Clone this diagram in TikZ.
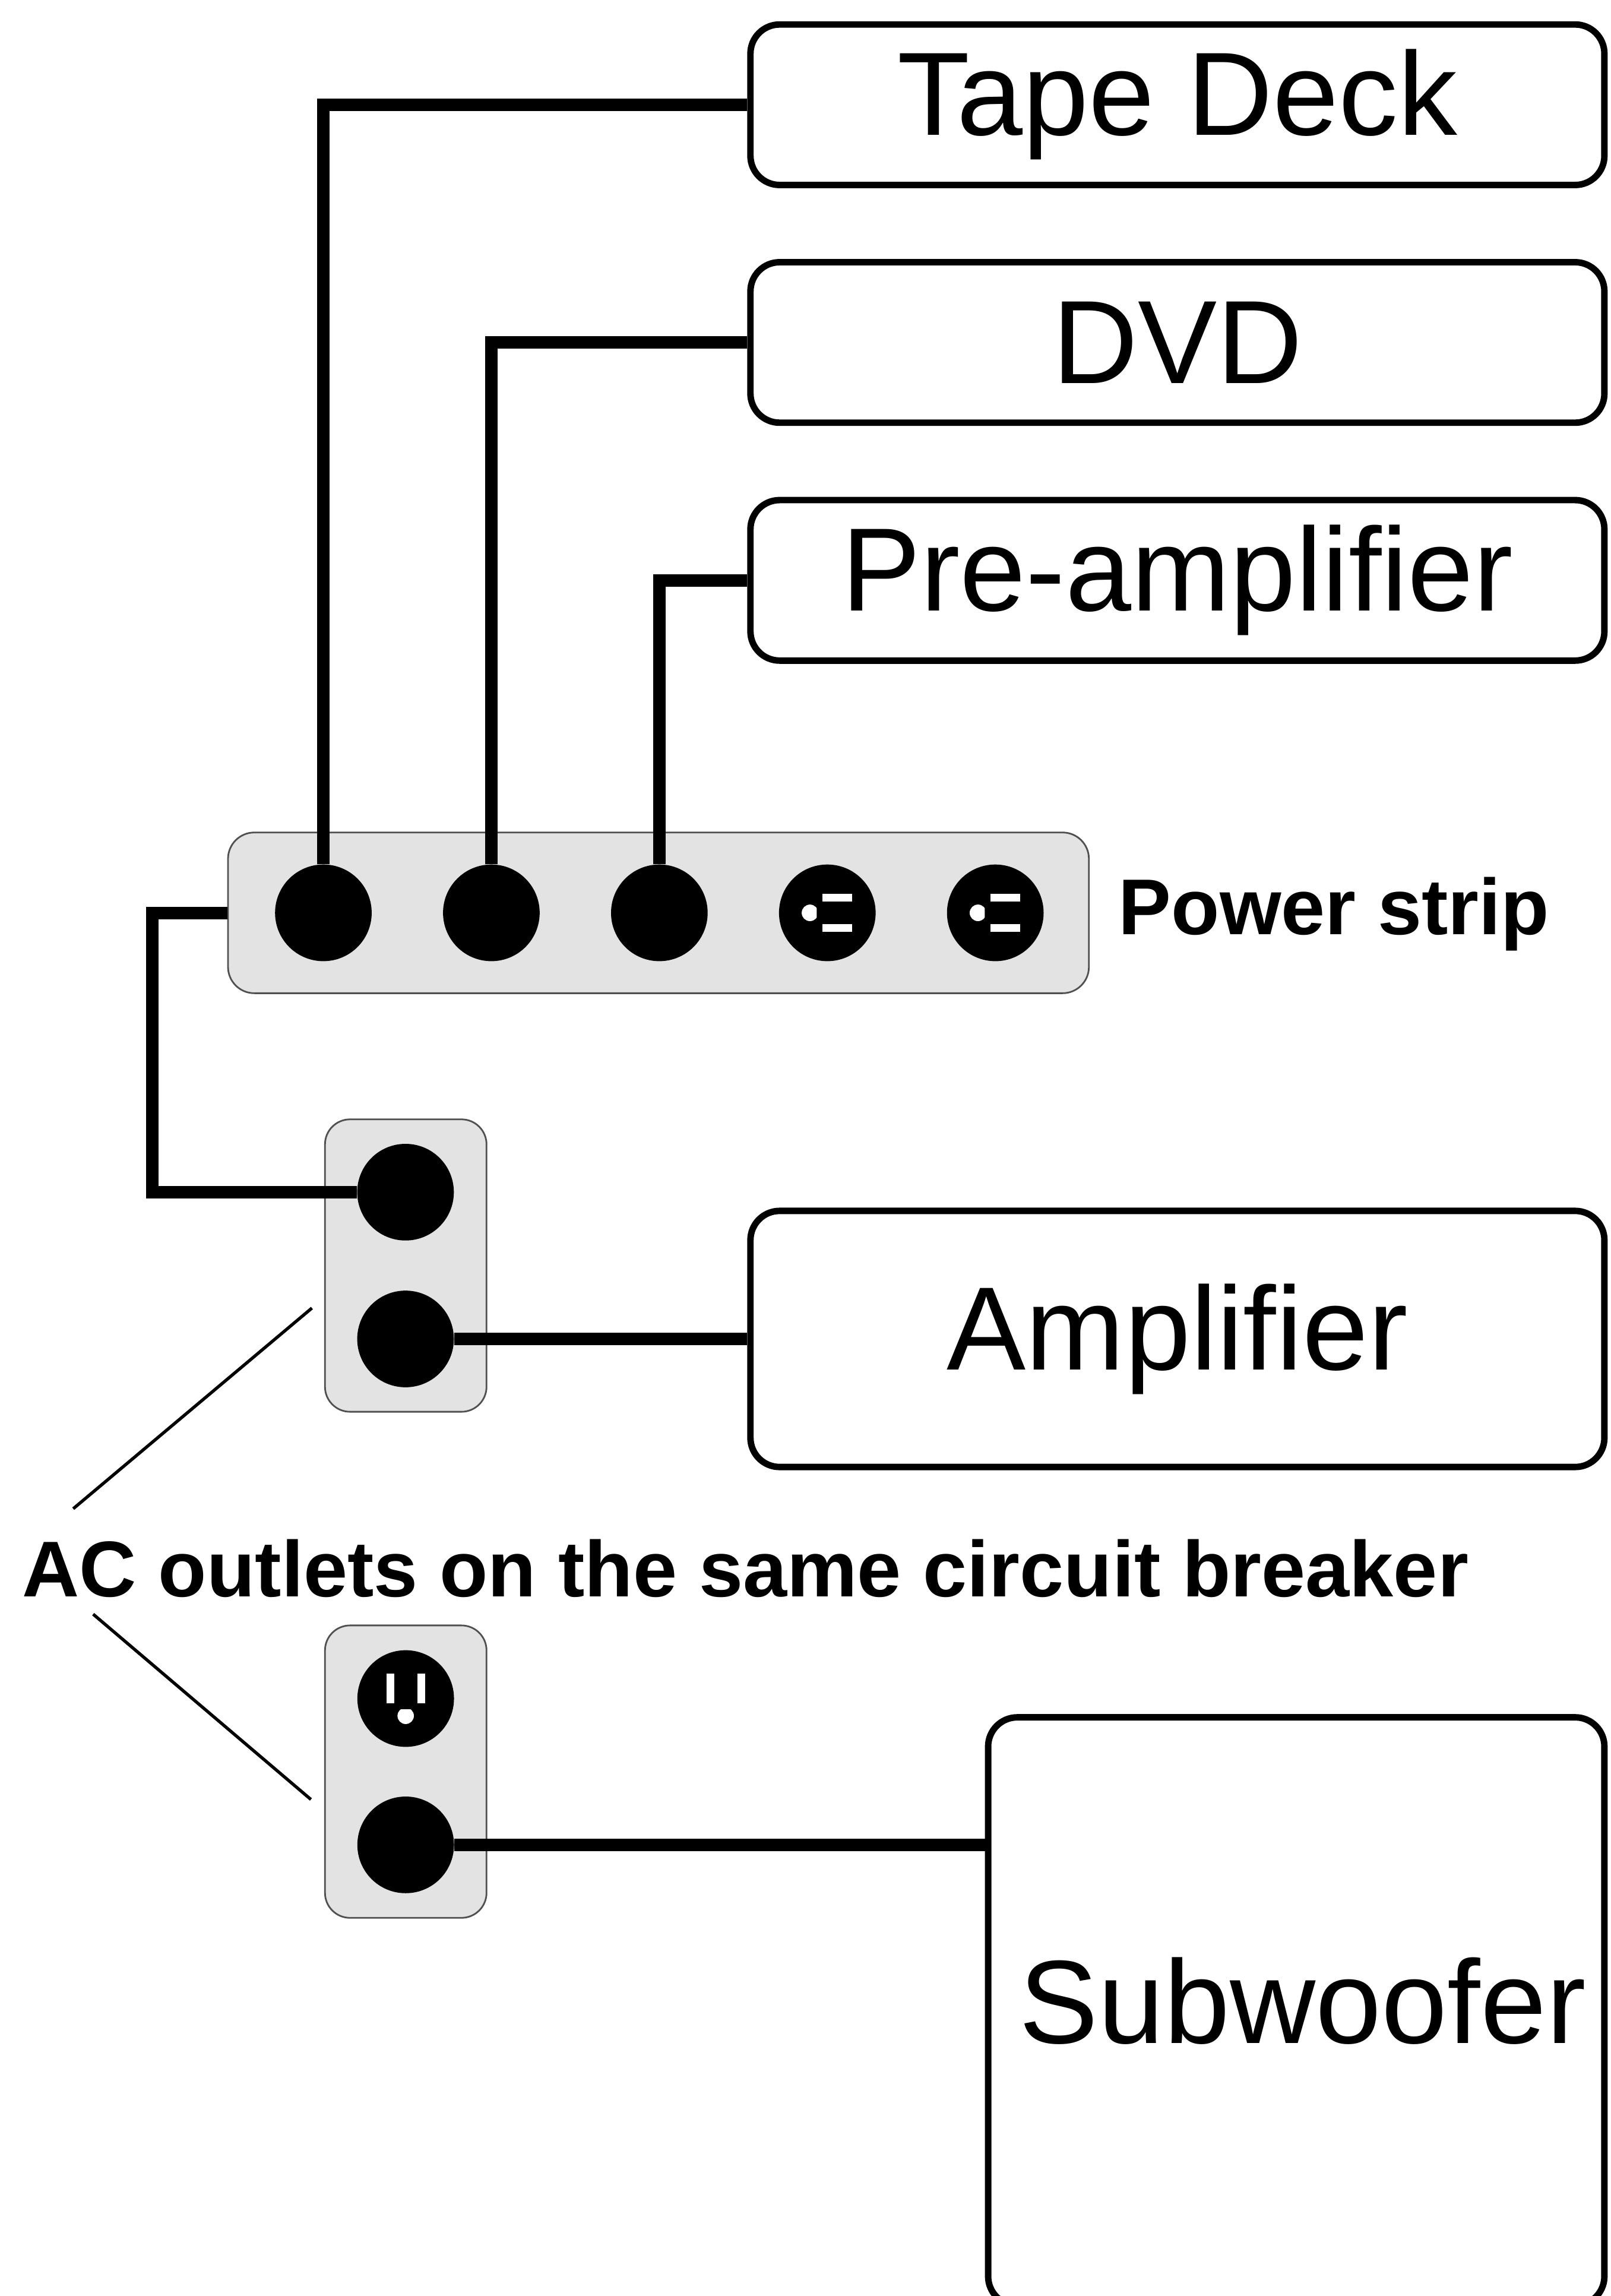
\documentclass[tikz,border=0pt]{standalone}
\usepackage{fontspec}
\setmainfont{Liberation Sans}
\definecolor{panelfill}{HTML}{E3E3E3}
\definecolor{panelline}{HTML}{505050}
\begin{document}
\begin{tikzpicture}[x=0.70176pt, y=-0.70176pt,
  device/.style={draw, line width=3.1pt, rounded corners=14pt, minimum width=409.2pt,
    minimum height=76.9pt, inner sep=0pt, fill=white,
    font=\fontsize{56.8pt}{60pt}\selectfont},
  panel/.style={draw=panelline, line width=0.8pt, fill=panelfill, inner sep=0pt},
  socket/.style={circle, fill=black, minimum size=46.3pt, inner sep=0pt},
  wire/.style={line width=6pt},
  leader/.style={line width=1.5pt},
  boldlabel/.style={inner sep=0pt, font=\bfseries\fontsize{37.9pt}{40pt}\selectfont},
  slot/.style={fill=white},
  glyphH/.pic={
    \fill[slot] (-3.3,-13.1) rectangle (16.9,-7.6);
    \fill[slot] (-3.3,7.6) rectangle (16.9,13.1);
    \begin{scope}
      \clip (-20,-8) rectangle (-7.2,8);
      \fill[slot] (-11.85,0) circle[radius=5.65];
    \end{scope}
  },
  glyphV/.pic={
    \fill[slot] (-13.1,-17) rectangle (-7.7,3.2);
    \fill[slot] (7.9,-17) rectangle (13.3,3.2);
    \begin{scope}
      \clip (-8,7.3) rectangle (8,20);
      \fill[slot] (0,11.8) circle[radius=5.6];
    \end{scope}
  }
]
\useasboundingbox (0,0) rectangle (1100,1567.5);
\clip (0,0) rectangle (1100,1567.5);

% device boxes
\node[device] (tape) at (803.95,71.5) {Tape Deck};
\node[device] (dvd) at (803.95,233.8) {DVD};
\node[device] (pre) at (803.95,396.2) {Pre-amplifier};
\node[device, minimum height=122.7pt] (amp) at (803.95,914.1) {Amplifier};
\node[device, minimum width=295.3pt, minimum height=281.8pt] (sub) at (885.1,1373.2) {};
\node[inner sep=0pt, anchor=base, font=\fontsize{56.8pt}{60pt}\selectfont] (sublabel) at (889.4,1394.8) {Subwoofer};

% power strip
\node[panel, rounded corners=12.6pt, minimum width=412.5pt, minimum height=77pt] (strip) at (449.6,623.2) {};
\node[socket] (s1) at (220.8,623.2) {};
\node[socket] (s2) at (335.5,623.2) {};
\node[socket] (s3) at (450.2,623.2) {};
\node[socket] (s4) at (564.9,623.2) {};
\node[socket] (s5) at (679.6,623.2) {};
\pic at (s4) {glyphH};
\pic at (s5) {glyphH};
\node[boldlabel, anchor=base west] (pslabel) at (763.5,637.8) {Power strip};

% wall outlets
\node[panel, rounded corners=12pt, minimum width=77.4pt, minimum height=140.1pt] (wall1) at (277.05,864) {};
\node[socket] (ws1a) at (276.9,813.9) {};
\node[socket] (ws1b) at (276.9,914.1) {};
\node[panel, rounded corners=12pt, minimum width=77.4pt, minimum height=140.1pt] (wall2) at (277.05,1209.5) {};
\node[socket] (ws2a) at (277,1159.6) {};
\node[socket] (ws2b) at (277,1259.5) {};
\pic at (ws2a) {glyphV};

% wires
\draw[wire] (tape.west) -| (s1);
\draw[wire] (dvd.west) -| (s2);
\draw[wire] (pre.west) -| (s3);
\coordinate (cordbend) at (104,623.2);
\draw[wire] (strip.west) -- (cordbend) |- (ws1a);
\draw[wire] (ws1b) -- (ws1b -| amp.west);
\draw[wire] (ws2b) -- (ws2b -| sub.west);

% label and leaders
\node[boldlabel, anchor=base west] (aclabel) at (15,1090.1) {AC outlets on the same circuit breaker};
\coordinate (l1a) at (50,1030);
\coordinate (l1b) at (213,893);
\coordinate (l2a) at (63.6,1102);
\coordinate (l2b) at (212.3,1228.5);
\draw[leader] (l1a) -- (l1b);
\draw[leader] (l2a) -- (l2b);
\end{tikzpicture}
\end{document}
